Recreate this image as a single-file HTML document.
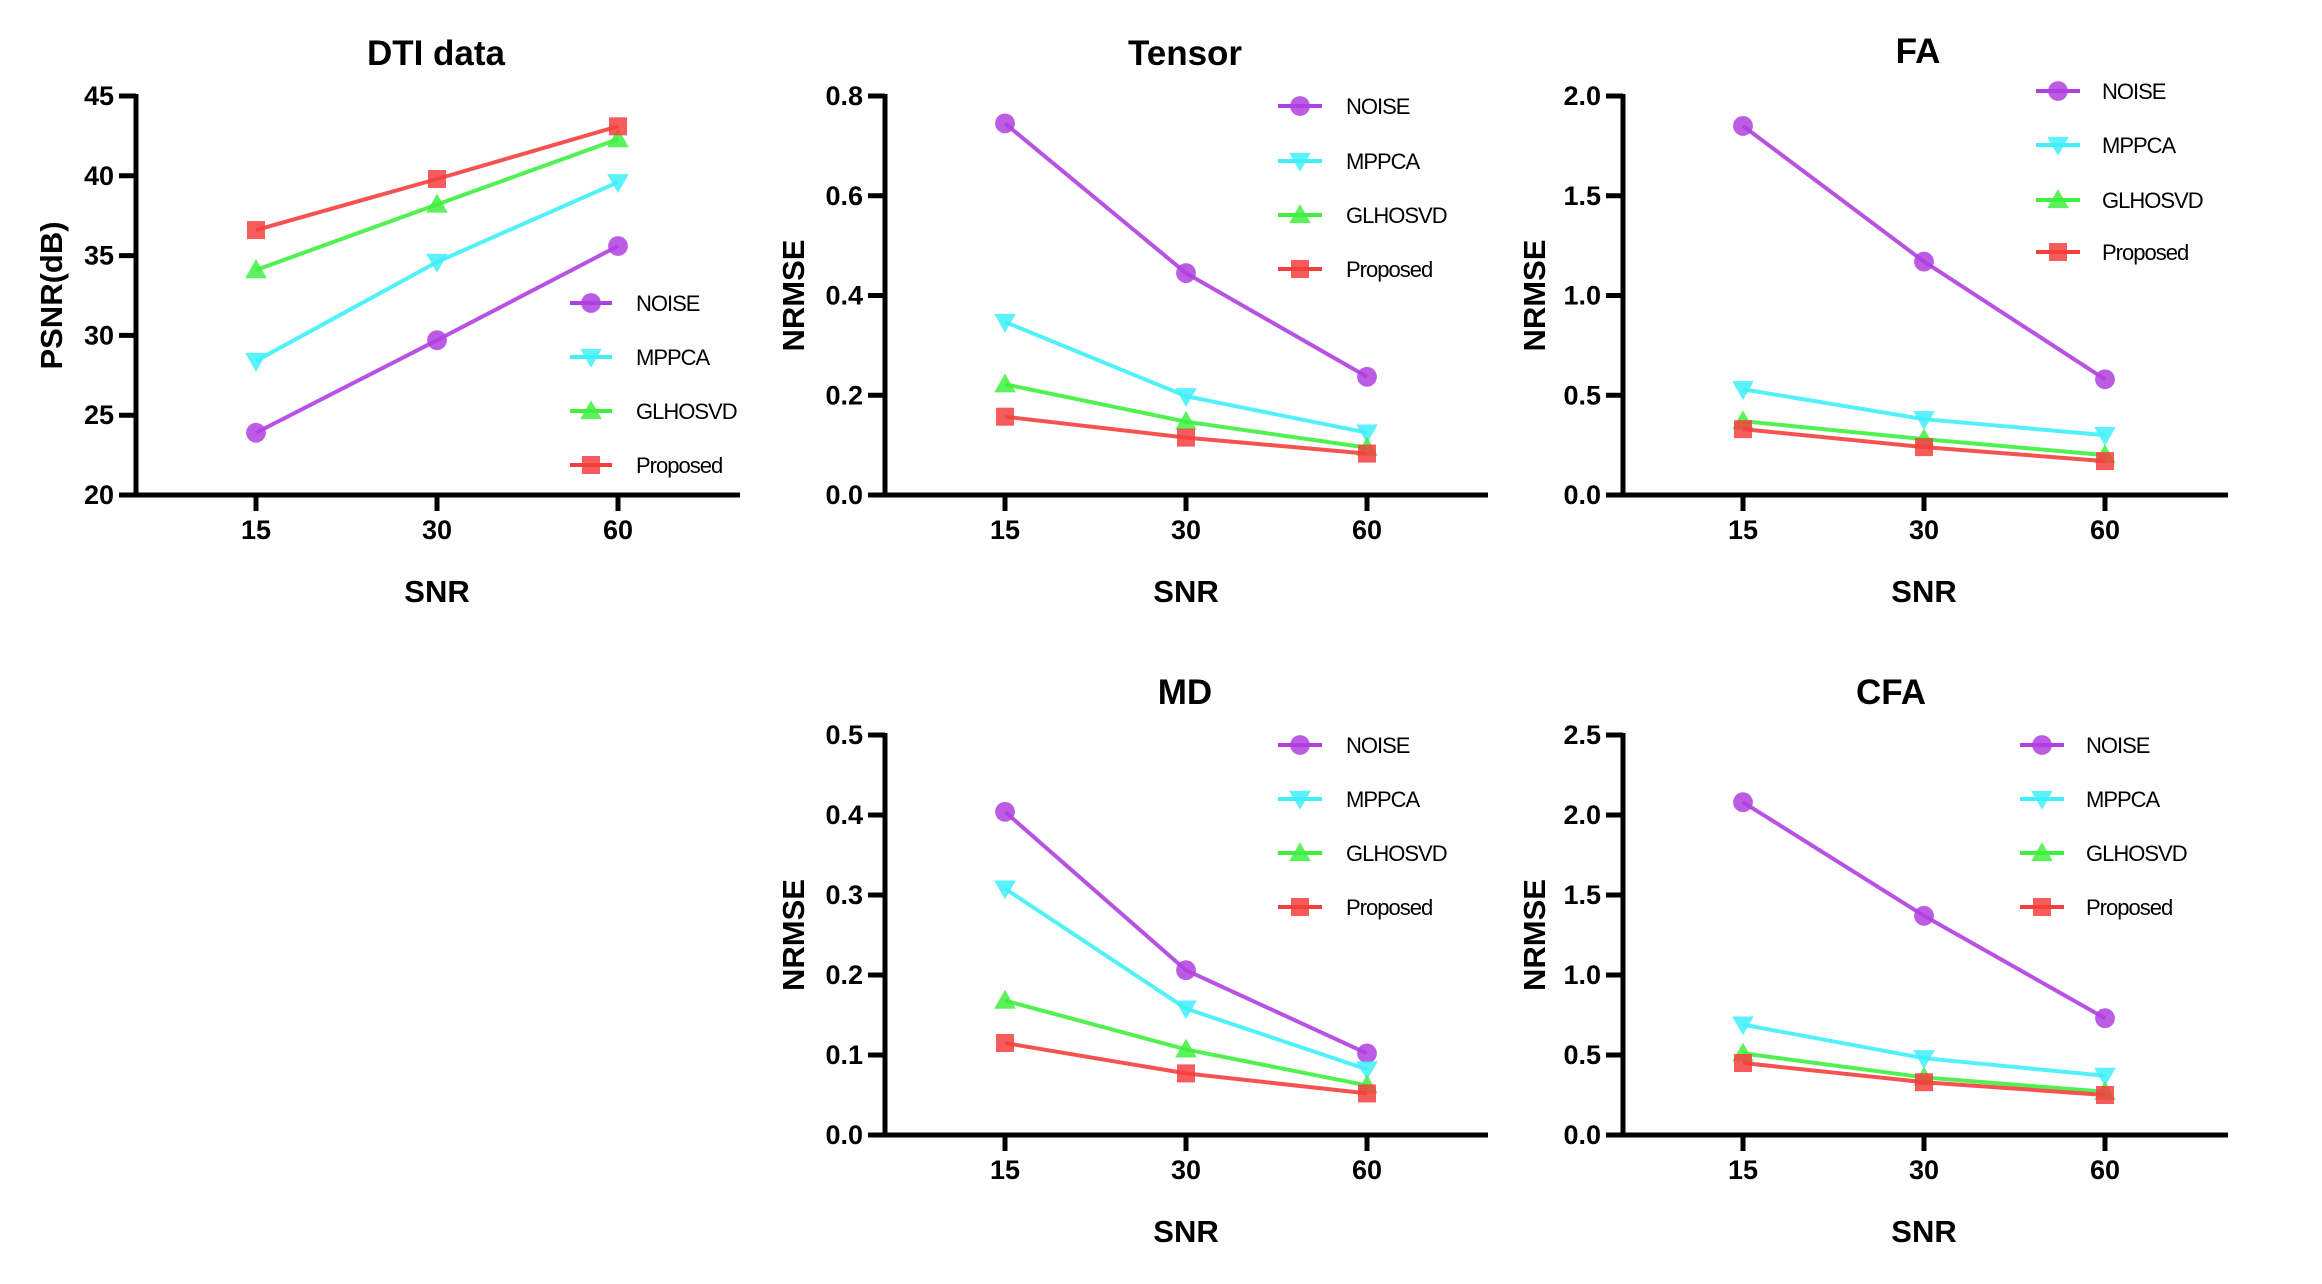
<!DOCTYPE html>
<html><head><meta charset="utf-8"><style>
html,body{margin:0;padding:0;background:#fff;}
svg{display:block;font-family:"Liberation Sans",Arial,sans-serif;}
</style></head>
<body>
<svg id="fig" width="2322" height="1284" viewBox="0 0 2322 1284" xmlns="http://www.w3.org/2000/svg"></svg>
<script>
const categories = ["15","30","60"];
const seriesNames = ["NOISE","MPPCA","GLHOSVD","Proposed"];
const seriesColors = ["#b03fe0","#3ff0fa","#3ff03f","#f53f3f"];
const markerShapes = ["circle","tri-down","tri-up","square"];

const dtiNoise = [23.9, 29.7, 35.6];
const dtiMppca = [28.4, 34.6, 39.6];
const dtiGlhosvd = [34.1, 38.2, 42.3];
const dtiProposed = [36.6, 39.8, 43.1];
const dtiTicks = ["20","25","30","35","40","45"];

const tensorNoise = [0.745, 0.445, 0.237];
const tensorMppca = [0.347, 0.198, 0.125];
const tensorGlhosvd = [0.222, 0.147, 0.095];
const tensorProposed = [0.157, 0.115, 0.083];
const tensorTicks = ["0.0","0.2","0.4","0.6","0.8"];

const faNoise = [1.85, 1.17, 0.58];
const faMppca = [0.53, 0.38, 0.30];
const faGlhosvd = [0.37, 0.28, 0.20];
const faProposed = [0.33, 0.24, 0.17];
const faTicks = ["0.0","0.5","1.0","1.5","2.0"];

const mdNoise = [0.404, 0.206, 0.102];
const mdMppca = [0.308, 0.158, 0.082];
const mdGlhosvd = [0.168, 0.107, 0.062];
const mdProposed = [0.115, 0.077, 0.052];
const mdTicks = ["0.0","0.1","0.2","0.3","0.4","0.5"];

const cfaNoise = [2.08, 1.37, 0.73];
const cfaMppca = [0.69, 0.48, 0.37];
const cfaGlhosvd = [0.51, 0.36, 0.27];
const cfaProposed = [0.45, 0.33, 0.25];
const cfaTicks = ["0.0","0.5","1.0","1.5","2.0","2.5"];

const NS = "http://www.w3.org/2000/svg";
const svg = document.getElementById("fig");
function mk(tag, attrs, parent){
  const e = document.createElementNS(NS, tag);
  for (const k in attrs) e.setAttribute(k, attrs[k]);
  (parent||svg).appendChild(e);
  return e;
}
function marker(g, shape, x, y, color, s){
  let e;
  if (shape==="circle") e = mk("circle",{cx:x,cy:y,r:s*0.55,fill:color,"fill-opacity":0.85},g);
  else if (shape==="square") e = mk("rect",{x:x-s*0.5,y:y-s*0.5,width:s,height:s,fill:color,"fill-opacity":0.85},g);
  else if (shape==="tri-up") e = mk("polygon",{points:`${x},${y-s*0.6} ${x-s*0.6},${y+s*0.45} ${x+s*0.6},${y+s*0.45}`,fill:color,"fill-opacity":0.85},g);
  else e = mk("polygon",{points:`${x},${y+s*0.6} ${x-s*0.6},${y-s*0.45} ${x+s*0.6},${y-s*0.45}`,fill:color,"fill-opacity":0.85},g);
  return e;
}

function panel(cfg){
  const g = mk("g",{});
  
  
  const ymin = parseFloat(cfg.ticks[0]), ymax = parseFloat(cfg.ticks[cfg.ticks.length-1]);
  const yS = v => cfg.yZero - (v - ymin)/(ymax - ymin)*(cfg.yZero - cfg.yTop);
  const xS = i => cfg.x0 + i*cfg.dx;

  const t = mk("text",{x:cfg.titleX,y:cfg.titleY,"font-size":35,"font-weight":"bold","text-anchor":"middle"},g);
  t.textContent = cfg.title;
  
  

  const ya = mk("line",{x1:cfg.ax,y1:cfg.yTop-2,x2:cfg.ax,y2:cfg.yZero+2,stroke:"#000","stroke-width":5},g);
  
  
  const xa = mk("line",{x1:cfg.ax-17,y1:cfg.yZero,x2:cfg.axEnd,y2:cfg.yZero,stroke:"#000","stroke-width":5},g);
  
  

  cfg.ticks.forEach(tk => {
    const y = yS(parseFloat(tk));
    mk("line",{x1:cfg.ax-17,y1:y,x2:cfg.ax,y2:y,stroke:"#000","stroke-width":5},g);
    const tl = mk("text",{x:cfg.ax-22,y:y+9,"font-size":27,"font-weight":"bold","text-anchor":"end"},g);
    tl.textContent = tk;
    
    
  });
  categories.forEach((c,i) => {
    const x = xS(i);
    mk("line",{x1:x,y1:cfg.yZero,x2:x,y2:cfg.yZero+16,stroke:"#000","stroke-width":5},g);
    const tl = mk("text",{x:x,y:cfg.yZero+44,"font-size":27,"font-weight":"bold","text-anchor":"middle"},g);
    tl.textContent = c;
    
    
  });
  const xt = mk("text",{x:xS(1),y:cfg.yZero+107,"font-size":31,"font-weight":"bold","text-anchor":"middle"},g);
  xt.textContent = "SNR";
  
  
  const ycx = cfg.yTitleX, ycy = (cfg.yTop + cfg.yZero)/2;
  const yt = mk("text",{x:ycx,y:ycy,"font-size":31,"font-weight":"bold","text-anchor":"middle",transform:`rotate(-90 ${ycx} ${ycy})`},g);
  yt.textContent = cfg.yTitle;
  
  

  cfg.series.forEach((vals, si) => {
    const col = seriesColors[si];
    const pts = vals.map((v,i) => `${xS(i)},${yS(v)}`).join(" ");
    const pl = mk("polyline",{points:pts,fill:"none",stroke:col,"stroke-width":4,"stroke-opacity":0.9},g);
    
    
    vals.forEach((v,i) => {
      const m = marker(g, markerShapes[si], xS(i), yS(v), col, 18);
      
      
    });
  });

  const lg = mk("g",{},g);
  
  
  seriesNames.forEach((n, si) => {
    const y = cfg.legRows[si];
    const eg = mk("g",{},lg);
    
    
    mk("line",{x1:cfg.legX0,y1:y,x2:cfg.legX1,y2:y,stroke:seriesColors[si],"stroke-width":4},eg);
    marker(eg, markerShapes[si], (cfg.legX0+cfg.legX1)/2, y, seriesColors[si], 18);
    const tx = mk("text",{x:cfg.legTX,y:y+8,"font-size":22,"letter-spacing":"-1"},eg);
    tx.textContent = n;
  });
}

const topRow = {yTop:96, yZero:495};
const botRow = {yTop:735, yZero:1135};

panel(Object.assign({name:"dti", title:"DTI data", titleX:436, titleY:65, ax:136, axEnd:740, x0:256, dx:181,
  ticks:dtiTicks, yTitle:"PSNR(dB)", yTitleX:62, series:[dtiNoise,dtiMppca,dtiGlhosvd,dtiProposed],
  legX0:570, legX1:612, legTX:636, legRows:[303,357,411,465]}, topRow));
panel(Object.assign({name:"tensor", title:"Tensor", titleX:1185, titleY:65, ax:885, axEnd:1488, x0:1005, dx:181,
  ticks:tensorTicks, yTitle:"NRMSE", yTitleX:804, series:[tensorNoise,tensorMppca,tensorGlhosvd,tensorProposed],
  legX0:1278, legX1:1322, legTX:1346, legRows:[106,161,215,269]}, topRow));
panel(Object.assign({name:"fa", title:"FA", titleX:1918, titleY:63, ax:1623, axEnd:2228, x0:1743, dx:181,
  ticks:faTicks, yTitle:"NRMSE", yTitleX:1545, series:[faNoise,faMppca,faGlhosvd,faProposed],
  legX0:2036, legX1:2080, legTX:2102, legRows:[91,145,200,252]}, topRow));
panel(Object.assign({name:"md", title:"MD", titleX:1185, titleY:704, ax:885, axEnd:1488, x0:1005, dx:181,
  ticks:mdTicks, yTitle:"NRMSE", yTitleX:804, series:[mdNoise,mdMppca,mdGlhosvd,mdProposed],
  legX0:1278, legX1:1322, legTX:1346, legRows:[745,799,853,907]}, botRow));
panel(Object.assign({name:"cfa", title:"CFA", titleX:1891, titleY:704, ax:1623, axEnd:2228, x0:1743, dx:181,
  ticks:cfaTicks, yTitle:"NRMSE", yTitleX:1545, series:[cfaNoise,cfaMppca,cfaGlhosvd,cfaProposed],
  legX0:2020, legX1:2064, legTX:2086, legRows:[745,799,853,907]}, botRow));
</script>
</body></html>
